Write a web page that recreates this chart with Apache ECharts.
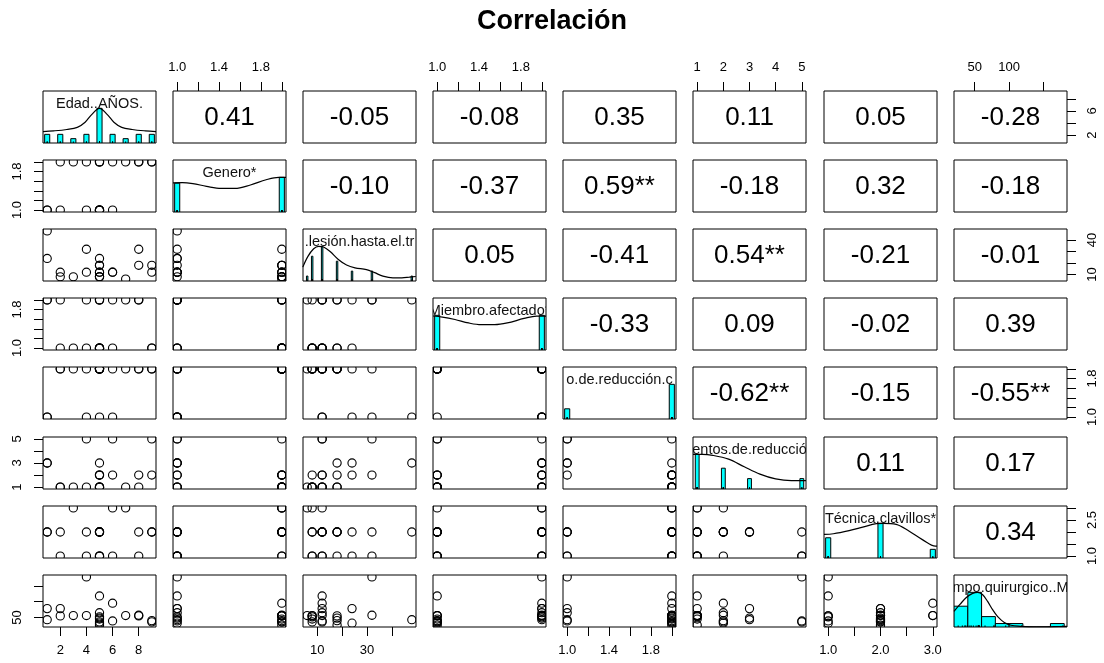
<!DOCTYPE html>
<html>
<head>
<meta charset="utf-8">
<script src="https://cdn.jsdelivr.net/npm/echarts@6/dist/echarts.min.js"></script>
<style>
  html, body { margin: 0; padding: 0; background: #fff; }
  #chart { width: 1104px; height: 663px; }
</style>
</head>
<body>
<div id="chart"></div>
<script>
// ---- data: one value per patient (22 patients) ----
const varLabels = ['Edad..AÑOS.', 'Genero*', '.lesión.hasta.el.tr', 'Miembro.afectado*',
                   'o.de.reducción.c', 'entos.de.reducció', 'Técnica.clavillos*', 'mpo.quirurgico..M'];

const edad       = [1, 1, 9, 9, 7, 3, 2, 2, 8, 8, 6, 6, 4, 4, 5, 5, 5, 5, 5, 5, 5, 5];
const genero     = [1, 1, 2, 2, 2, 2, 1, 2, 2, 2, 1, 2, 1, 2, 1, 1, 2, 1, 1, 2, 1, 2];
const lesion     = [48, 24, 18, 12, 6, 8, 12, 8, 32, 18, 12, 12, 32, 12, 24, 18, 18, 12, 12, 8, 8, 8];
const miembro    = [2, 2, 1, 1, 2, 1, 2, 1, 2, 2, 1, 2, 2, 1, 1, 2, 1, 2, 1, 1, 2, 1];
const reduccion  = [1, 1, 2, 2, 2, 2, 2, 2, 2, 2, 1, 2, 1, 2, 2, 2, 2, 1, 2, 2, 2, 2];
const intentos   = [3, 3, 2, 5, 1, 1, 1, 1, 2, 1, 5, 2, 5, 1, 2, 3, 1, 2, 1, 2, 1, 1];
const tecnica    = [2, 2, 2, 2, 3, 3, 2, 1, 2, 1, 1, 3, 1, 2, 1, 2, 2, 2, 1, 2, 1, 2];
const quirurgico = [43, 78, 40, 36, 56, 56, 78, 55, 57, 55, 39, 95, 178, 56, 32, 48, 26, 65, 118, 36, 52, 45];

// histogram breaks for the continuous variable (surgery time)
const quirurgicoBreaks = [20, 40, 60, 80, 100, 120, 140, 160, 180];

// correlation coefficients shown in the upper panels, row by row
const corrLabels = [
  '0.41', '-0.05', '-0.08', '0.35', '0.11', '0.05', '-0.28',
  '-0.10', '-0.37', '0.59**', '-0.18', '0.32', '-0.18',
  '0.05', '-0.41', '0.54**', '-0.21', '-0.01',
  '-0.33', '0.09', '-0.02', '0.39',
  '-0.62**', '-0.15', '-0.55**',
  '0.11', '0.17',
  '0.34'
];

// density estimates (peak scaled to 1) for the diagonal panels
const densEdad = [[0.68,0.33],[1.5,0.35],[2.5,0.39],[3.3,0.45],[3.9,0.6],[4.4,0.82],[5,1.0],[5.6,0.82],[6.1,0.6],[6.7,0.45],[7.5,0.39],[8.5,0.35],[9.32,0.33]];
const densGenero = [[0.96,0.84],[1.05,0.85],[1.15,0.82],[1.28,0.74],[1.42,0.68],[1.55,0.68],[1.7,0.78],[1.85,0.93],[1.97,1.0],[2.04,1.0]];
const densLesion = [[4.24,0.40],[6.3,0.71],[8.6,0.93],[10.6,1.0],[12.6,0.98],[15.2,0.85],[18.5,0.62],[21.8,0.46],[25.2,0.38],[29.8,0.33],[33.1,0.24],[36.4,0.14],[40.4,0.09],[44,0.09],[47,0.11],[49.6,0.13]];
const densMiembro = [[0.96,0.98],[1.05,0.95],[1.17,0.88],[1.3,0.78],[1.42,0.73],[1.55,0.73],[1.67,0.78],[1.83,0.91],[1.95,0.98],[2.04,0.98]];
const densReduccion = [];
const densIntentos = [[0.84,1.0],[1.2,1.0],[1.6,0.97],[2.2,0.86],[2.8,0.64],[3.4,0.43],[4.0,0.29],[4.6,0.24],[5.16,0.24]];
const densTecnica = [[0.92,0.68],[1.1,0.70],[1.4,0.79],[1.66,0.89],[1.92,0.99],[2.05,1.0],[2.3,0.97],[2.55,0.77],[2.8,0.53],[3.05,0.34],[3.08,0.34]];
const densQuirurgico = [[19.9,0.45],[28.5,0.65],[37.8,0.85],[47,0.97],[54.3,1.0],[61.6,0.93],[69,0.73],[76,0.5],[83.4,0.3],[93,0.13],[102.8,0.05],[117,0.02],[135,0.0],[151,0.0],[165,0.01],[184,0.02]];

// axis ticks and the tick labels printed on horizontal / vertical axes
const tickValues = [
  [2, 4, 6, 8], [1, 1.2, 1.4, 1.6, 1.8, 2], [10, 20, 30, 40], [1, 1.2, 1.4, 1.6, 1.8, 2],
  [1, 1.2, 1.4, 1.6, 1.8, 2], [1, 2, 3, 4, 5], [1, 1.5, 2, 2.5, 3], [50, 100, 150]
];
const tickLabelsH = [
  ['2', '4', '6', '8'], ['1.0', '1.4', '1.8'], ['10', '30'], ['1.0', '1.4', '1.8'],
  ['1.0', '1.4', '1.8'], ['1', '2', '3', '4', '5'], ['1.0', '2.0', '3.0'], ['50', '100']
];
const tickLabelsV = [
  ['2', '6'], ['1.0', '1.8'], ['10', '40'], ['1.0', '1.8'],
  ['1.0', '1.8'], ['1', '3', '5'], ['1.0', '2.5'], ['50']
];

// ---- layout ----
const columns = [edad, genero, lesion, miembro, reduccion, intentos, tecnica, quirurgico];
const densities = [densEdad, densGenero, densLesion, densMiembro, densReduccion, densIntentos, densTecnica, densQuirurgico];
const N = columns.length;
const FONT = '"Liberation Sans", Arial, sans-serif';
const PANEL_W = 113, PANEL_H = 52;
const colLeft = j => Math.round(42.7 + 130.14 * j);
const rowTop = i => Math.round(90.7 + 69.19 * i);

// data range padded by 4% on each side
function paddedRange(v) {
  const lo = Math.min(...v), hi = Math.max(...v), d = (hi - lo) * 0.04;
  return [lo - d, hi + d];
}
const ranges = columns.map(paddedRange);

function axisOption(k, range, side, j, vertical) {
  const base = {
    gridIndex: k, type: 'value', min: range[0], max: range[1],
    splitLine: { show: false }, axisLine: { show: false }
  };
  if (!side) {
    return Object.assign(base, { show: false, axisTick: { show: false }, axisLabel: { show: false } });
  }
  const labels = vertical ? tickLabelsV[j] : tickLabelsH[j];
  return Object.assign(base, {
    show: true, position: side,
    axisTick: { show: true, inside: false, length: 9, customValues: tickValues[j],
                lineStyle: { color: '#000', width: 1 } },
    axisLabel: {
      show: true, customValues: labels.map(Number),
      formatter: v => labels.find(s => Math.abs(Number(s) - v) < 1e-9) || '',
      margin: vertical ? 19 : 17, rotate: vertical ? 90 : 0,
      fontSize: 13, color: '#000', fontFamily: FONT
    }
  });
}

// bar heights per distinct value (scaled to the tallest bar), or per break interval
function histogram(j) {
  const v = columns[j];
  const uniq = [...new Set(v)].sort((a, b) => a - b);
  if (uniq.length < 11) {
    const counts = uniq.map(u => v.filter(x => x === u).length);
    const mx = Math.max(...counts);
    let minDiff = Infinity;
    for (let t = 1; t < uniq.length; t++) minDiff = Math.min(minDiff, uniq[t] - uniq[t - 1]);
    const half = minDiff * (uniq.length - 1) / 41;
    return uniq.map((u, t) => [u - half, u + half, counts[t] / mx]);
  }
  const br = quirurgicoBreaks;
  const counts = br.slice(0, -1).map((b, t) =>
    v.filter(x => (t === 0 ? x >= b : x > b) && x <= br[t + 1]).length);
  const mx = Math.max(...counts);
  return counts.map((c, t) => [br[t], br[t + 1], c / mx]);
}

const grids = [], xAxes = [], yAxes = [], series = [];
let corrIdx = 0;

for (let i = 0; i < N; i++) {
  for (let j = 0; j < N; j++) {
    const k = i * N + j;
    grids.push({
      left: colLeft(j), top: rowTop(i), width: PANEL_W, height: PANEL_H,
      show: true, borderColor: '#000', borderWidth: 1, backgroundColor: 'transparent',
      containLabel: false, outerBoundsMode: 'none'
    });
    const xSide = (i === 0 && j % 2 === 1) ? 'top' : (i === N - 1 && j % 2 === 0) ? 'bottom' : null;
    xAxes.push(axisOption(k, ranges[j], xSide, j, false));
    if (i === j) {
      yAxes.push(axisOption(k, [0, 1.5], null, i, true));
    } else {
      const ySide = (j === 0 && i % 2 === 1) ? 'left' : (j === N - 1 && i % 2 === 0) ? 'right' : null;
      yAxes.push(axisOption(k, ranges[i], ySide, i, true));
    }

    if (i > j) {
      // scatter of variable j (x) against variable i (y)
      series.push({
        type: 'custom', xAxisIndex: k, yAxisIndex: k, clip: true, silent: true,
        data: columns[j].map((x, r) => [x, columns[i][r]]),
        renderItem: (params, api) => {
          const p = api.coord([api.value(0), api.value(1)]);
          return { type: 'circle', shape: { cx: p[0], cy: p[1], r: 4.1 },
                   style: { fill: 'none', stroke: '#000', lineWidth: 1.1 } };
        }
      });
    } else if (i === j) {
      series.push({
        type: 'custom', xAxisIndex: k, yAxisIndex: k, clip: true, silent: true,
        data: histogram(j),
        renderItem: (params, api) => {
          const p0 = api.coord([api.value(0), 0]);
          const p1 = api.coord([api.value(1), api.value(2)]);
          return { type: 'rect',
                   shape: { x: p0[0], y: p1[1], width: p1[0] - p0[0], height: p0[1] - p1[1] },
                   style: { fill: '#00ffff', stroke: '#000', lineWidth: 1 } };
        }
      });
      // rug along the bottom edge
      series.push({
        type: 'custom', xAxisIndex: k, yAxisIndex: k, clip: true, silent: true,
        data: columns[j].map(x => [x, 0]),
        renderItem: (params, api) => {
          const a = api.coord([api.value(0), 0]);
          const b = api.coord([api.value(0), 0.045]);
          return { type: 'line', shape: { x1: a[0], y1: a[1], x2: b[0], y2: b[1] },
                   style: { stroke: '#000', lineWidth: 1 } };
        }
      });
      if (densities[j].length) {
        series.push({
          type: 'line', xAxisIndex: k, yAxisIndex: k, data: densities[j], smooth: 0.35,
          symbol: 'none', clip: true, silent: true,
          lineStyle: { color: '#000', width: 1.2 }
        });
      }
      // variable name across the top of the diagonal panel
      const name = varLabels[j];
      series.push({
        type: 'custom', xAxisIndex: k, yAxisIndex: k, clip: true, silent: true,
        data: [[0, 0]],
        renderItem: (params) => {
          const cs = params.coordSys;
          return { type: 'text',
                   style: { text: name, x: cs.x + cs.width / 2, y: cs.y + 12.5,
                            align: 'center', verticalAlign: 'middle',
                            textAlign: 'center', textVerticalAlign: 'middle',
                            font: '14.5px ' + FONT, fill: '#111' } };
        }
      });
    } else {
      // correlation coefficient in the centre of the panel
      const txt = corrLabels[corrIdx++];
      series.push({
        type: 'custom', xAxisIndex: k, yAxisIndex: k, silent: true,
        data: [[0, 0]],
        renderItem: (params) => {
          const cs = params.coordSys;
          return { type: 'text',
                   style: { text: txt, x: cs.x + cs.width / 2, y: cs.y + cs.height / 2 + 1,
                            align: 'center', verticalAlign: 'middle',
                            textAlign: 'center', textVerticalAlign: 'middle',
                            font: '26px ' + FONT, fill: '#000' } };
        }
      });
    }
  }
}

const chart = echarts.init(document.getElementById('chart'), null, { renderer: 'canvas' });
chart.setOption({
  animation: false,
  backgroundColor: '#fff',
  textStyle: { fontFamily: FONT },
  title: {
    text: 'Correlación', left: 'center', top: 3,
    textStyle: { fontSize: 27, fontWeight: 'bold', color: '#000', fontFamily: FONT }
  },
  grid: grids,
  xAxis: xAxes,
  yAxis: yAxes,
  series: series
});
</script>
</body>
</html>
